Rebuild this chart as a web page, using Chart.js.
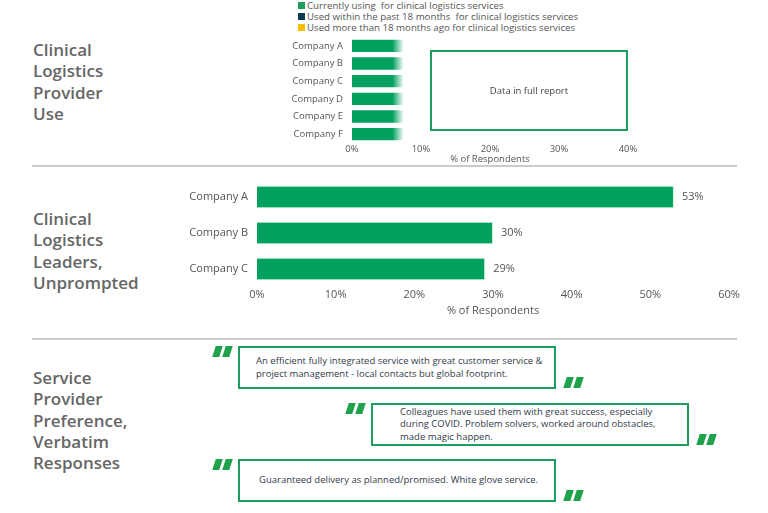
<!DOCTYPE html>
<html>
<head>
<meta charset="utf-8">
<script src="https://cdn.jsdelivr.net/npm/chart.js@4.4.0/dist/chart.umd.min.js"></script>
<style>
  body { margin: 0; width: 768px; height: 513px; background: #fff; position: relative; overflow: hidden; font-family: "Open Sans", sans-serif; }
  .title { position: absolute; left: 33px; font-size: 17px; font-weight: 600; color: #666; line-height: 21.3px; }
  .rule { position: absolute; left: 32px; width: 705px; height: 2px; background: #cbcbcb; }
  #legend { position: absolute; left: 298px; top: 0; font-size: 9.7px; color: #555; line-height: 11px; white-space: pre; }
  #legend .sw { display: inline-block; width: 7px; height: 7px; margin-right: 2px; vertical-align: 0px; }
  .report { position: absolute; left: 430px; top: 50px; width: 194px; height: 77px; border: 2px solid #1d9e5c; display: flex; align-items: center; justify-content: center; font-size: 9.5px; color: #444; }
  canvas { position: absolute; }
  .quote { position: absolute; width: 314px; height: 39px; border: 2px solid #1d9e5c; display: flex; align-items: center; font-size: 9.5px; color: #323c4a; line-height: 12.5px; box-sizing: content-box; }
  .mark { position: absolute; width: 22px; height: 11px; }
  .mark span { position: absolute; top: 0; width: 7px; height: 11px; background: #1fa24c; transform: skewX(-18deg); }
  .mark span:first-child { left: 2px; }
  .mark span:last-child { left: 12px; }
</style>
</head>
<body>
  <div class="title" style="top:39px">Clinical<br>Logistics<br>Provider<br>Use</div>
  <div class="rule" style="top:165px"></div>
  <div class="title" style="top:208px">Clinical<br>Logistics<br>Leaders,<br>Unprompted</div>
  <div class="rule" style="top:338px"></div>
  <div class="title" style="top:367px">Service<br>Provider<br>Preference,<br>Verbatim<br>Responses</div>

  <div id="legend"></div>
  <canvas id="useChart" width="378" height="128" style="left:270px;top:37px"></canvas>
  <div class="report">Data in full report</div>

  <canvas id="leaderChart" width="589" height="138" style="left:160px;top:179px"></canvas>

  <div id="quotes"></div>

<script>
const useCompanies = ['Company A', 'Company B', 'Company C', 'Company D', 'Company E', 'Company F'];
const useCurrent = [7.5, 7.5, 7.5, 7.5, 7.5, 7.5];
const useLegendLabels = [
  'Currently using  for clinical logistics services',
  'Used within the past 18 months  for clinical logistics services',
  'Used more than 18 months ago for clinical logistics services'
];
const useLegendColors = ['#1e9e5a', '#0d3b4f', '#f2c200'];

const leaderCompanies = ['Company A', 'Company B', 'Company C'];
const leaderValues = [53, 30, 29];

const quoteTexts = [
  'An efficient fully integrated service with great customer service &amp;<br>project management - local contacts but global footprint.',
  'Colleagues have used them with great success, especially<br>during COVID. Problem solvers, worked around obstacles,<br>made magic happen.',
  'Guaranteed delivery as planned/promised. White glove service.'
];

const green = '#00a05e';
Chart.defaults.font.family = '"Open Sans", sans-serif';
Chart.defaults.color = '#555';

// legend for the top chart
document.getElementById('legend').innerHTML = useLegendLabels
  .map((l, i) => `<div><span class="sw" style="background:${useLegendColors[i]}"></span>${l}</div>`)
  .join('');

function percentAxis(max, step, size, height) {
  return {
    min: 0, max: max,
    ticks: { stepSize: step, padding: 1, font: { size: size }, callback: v => v + '%' },
    grid: { display: false, drawTicks: false },
    border: { display: false },
    title: { display: true, text: '% of Respondents', font: { size: size }, padding: 0 },
    afterFit: s => { s.height = height; }
  };
}

function categoryAxis(width, size) {
  return {
    ticks: { padding: 9, font: { size: size } },
    grid: { display: false, drawTicks: false },
    border: { display: false },
    afterFit: s => { s.width = width; s.paddingTop = 0; s.paddingBottom = 0; }
  };
}

new Chart(document.getElementById('useChart'), {
  type: 'bar',
  data: {
    labels: useCompanies,
    datasets: [{
      label: useLegendLabels[0],
      data: useCurrent,
      barPercentage: 0.7,
      categoryPercentage: 1,
      backgroundColor: ctx => {
        const chart = ctx.chart;
        if (!chart.chartArea || ctx.raw === undefined) return green;
        const xs = chart.scales.x;
        const x0 = xs.getPixelForValue(0);
        const x1 = xs.getPixelForValue(ctx.raw);
        const g = chart.ctx.createLinearGradient(x0, 0, x1, 0);
        g.addColorStop(0, green);
        g.addColorStop(0.78, green);
        g.addColorStop(1, 'rgba(0,160,94,0)');
        return g;
      }
    }]
  },
  options: {
    indexAxis: 'y',
    responsive: false,
    animation: false,
    layout: { padding: { left: 0, right: 20, top: 0, bottom: 0 } },
    plugins: { legend: { display: false }, tooltip: { enabled: false } },
    scales: {
      x: percentAxis(40, 10, 9.5, 22),
      y: categoryAxis(82, 9.5)
    }
  }
});

const valueLabels = {
  id: 'valueLabels',
  afterDatasetsDraw(chart) {
    const ctx = chart.ctx;
    const meta = chart.getDatasetMeta(0);
    ctx.save();
    ctx.font = '11px "Open Sans", sans-serif';
    ctx.fillStyle = '#555';
    ctx.textBaseline = 'middle';
    meta.data.forEach((bar, i) => {
      ctx.fillText(leaderValues[i] + '%', bar.x + 8, bar.y);
    });
    ctx.restore();
  }
};

new Chart(document.getElementById('leaderChart'), {
  type: 'bar',
  data: {
    labels: leaderCompanies,
    datasets: [{
      data: leaderValues,
      backgroundColor: green,
      borderColor: '#c8eed8',
      borderWidth: 1,
      barPercentage: 0.62,
      categoryPercentage: 1
    }]
  },
  options: {
    indexAxis: 'y',
    responsive: false,
    animation: false,
    layout: { padding: { left: 0, right: 20, top: 0, bottom: 0 } },
    plugins: { legend: { display: false }, tooltip: { enabled: false } },
    scales: {
      x: percentAxis(60, 10, 11, 30),
      y: categoryAxis(97, 11)
    }
  },
  plugins: [valueLabels]
});

// verbatim quote boxes
const quoteBoxes = [
  { left: 238, top: 346, pad: 16 },
  { left: 371, top: 403, pad: 27 },
  { left: 238, top: 459, pad: 19 }
];
const quotes = document.getElementById('quotes');
quoteTexts.forEach((t, i) => {
  const b = quoteBoxes[i];
  quotes.insertAdjacentHTML('beforeend',
    `<div class="quote" style="left:${b.left}px;top:${b.top}px"><div style="padding-left:${b.pad}px">${t}</div></div>` +
    `<div class="mark" style="left:${b.left - 26}px;top:${b.top}px"><span></span><span></span></div>` +
    `<div class="mark" style="left:${b.left + 325}px;top:${b.top + 31}px"><span></span><span></span></div>`);
});
</script>
</body>
</html>
